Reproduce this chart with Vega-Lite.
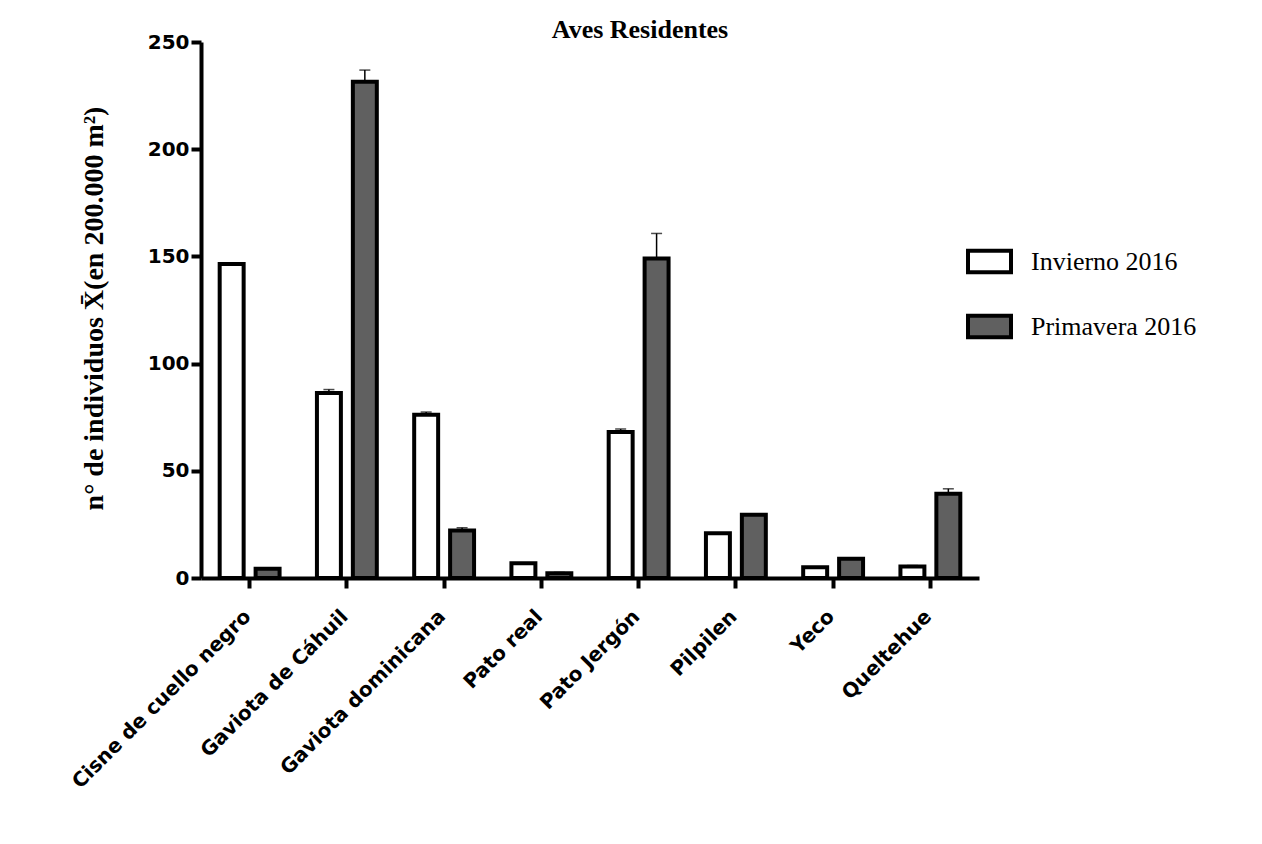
{
  "$schema": "https://vega.github.io/schema/vega-lite/v6.json",
  "autosize": {"type": "none"},
  "padding": {"left": 201, "top": 42, "right": 283, "bottom": 266},
  "width": 778,
  "height": 536,
  "background": "white",
  "title": {
    "text": "Aves Residentes",
    "font": "Liberation Serif",
    "fontWeight": "bold",
    "fontSize": 26,
    "color": "black",
    "anchor": "middle",
    "dx": 50,
    "offset": -11
  },
  "data": {
    "values": [
      {"especie": "Cisne de cuello negro", "temporada": "Invierno 2016", "valor": 146.4, "sup": 146.9},
      {"especie": "Cisne de cuello negro", "temporada": "Primavera 2016", "valor": 4.3, "sup": 4.8},
      {"especie": "Gaviota de Cáhuil", "temporada": "Invierno 2016", "valor": 86.3, "sup": 87.9},
      {"especie": "Gaviota de Cáhuil", "temporada": "Primavera 2016", "valor": 231.5, "sup": 236.9},
      {"especie": "Gaviota dominicana", "temporada": "Invierno 2016", "valor": 76.2, "sup": 77.4},
      {"especie": "Gaviota dominicana", "temporada": "Primavera 2016", "valor": 22.2, "sup": 23.4},
      {"especie": "Pato real", "temporada": "Invierno 2016", "valor": 6.9, "sup": 6.9},
      {"especie": "Pato real", "temporada": "Primavera 2016", "valor": 2.2, "sup": 2.6},
      {"especie": "Pato Jergón", "temporada": "Invierno 2016", "valor": 68.1, "sup": 69.5},
      {"especie": "Pato Jergón", "temporada": "Primavera 2016", "valor": 149.0, "sup": 160.7},
      {"especie": "Pilpilen", "temporada": "Invierno 2016", "valor": 20.9, "sup": 20.9},
      {"especie": "Pilpilen", "temporada": "Primavera 2016", "valor": 29.5, "sup": 29.8},
      {"especie": "Yeco", "temporada": "Invierno 2016", "valor": 5.0, "sup": 5.0},
      {"especie": "Yeco", "temporada": "Primavera 2016", "valor": 9.0, "sup": 9.0},
      {"especie": "Queltehue", "temporada": "Invierno 2016", "valor": 5.4, "sup": 5.8},
      {"especie": "Queltehue", "temporada": "Primavera 2016", "valor": 39.3, "sup": 41.6}
    ]
  },
  "encoding": {
    "x": {
      "field": "especie",
      "type": "nominal",
      "sort": null,
      "scale": {"paddingInner": 0, "paddingOuter": 0},
      "axis": {
        "title": null,
        "labelAngle": -45,
        "labelFont": "DejaVu Sans",
        "labelFontWeight": "bold",
        "labelFontSize": 20,
        "labelColor": "black",
        "labelPadding": 18,
        "labelOffset": -9,
        "labelLimit": 0,
        "domainColor": "black",
        "domainWidth": 4,
        "tickColor": "black",
        "tickWidth": 4,
        "tickSize": 10
      }
    },
    "xOffset": {
      "field": "temporada",
      "type": "nominal",
      "scale": {"paddingInner": 0.333, "paddingOuter": 0.52}
    }
  },
  "layer": [
    {
      "mark": {"type": "rule", "color": "black", "strokeWidth": 1.5},
      "encoding": {
        "y": {"field": "valor", "type": "quantitative"},
        "y2": {"field": "sup"}
      }
    },
    {
      "mark": {"type": "tick", "color": "black", "thickness": 1.5, "size": 11},
      "encoding": {
        "y": {"field": "sup", "type": "quantitative"}
      }
    },
    {
      "mark": {"type": "bar", "stroke": "black", "strokeWidth": 4},
      "encoding": {
        "y": {
          "field": "valor",
          "type": "quantitative",
          "scale": {"domain": [0, 250], "nice": false},
          "axis": {
            "values": [0, 50, 100, 150, 200, 250],
            "grid": false,
            "title": "n° de individuos X̄(en 200.000 m²)",
            "titleFont": "Liberation Serif",
            "titleFontWeight": "bold",
            "titleFontSize": 28,
            "titleColor": "black",
            "titleAngle": -90,
            "titleAlign": "center",
            "titleBaseline": "middle",
            "titleX": -107,
            "titleY": 266,
            "labelFont": "DejaVu Sans",
            "labelFontWeight": "bold",
            "labelFontSize": 20,
            "labelColor": "black",
            "labelPadding": 2,
            "domainColor": "black",
            "domainWidth": 4,
            "tickColor": "black",
            "tickWidth": 4,
            "tickSize": 10
          }
        },
        "fill": {
          "field": "temporada",
          "type": "nominal",
          "scale": {"domain": ["Invierno 2016", "Primavera 2016"], "range": ["white", "#606060"]},
          "legend": {
            "title": null,
            "orient": "none",
            "legendX": 765,
            "legendY": 196,
            "symbolType": "M-1,-0.5H1V0.5H-1Z",
            "symbolSize": 1849,
            "symbolStrokeColor": "black",
            "symbolStrokeWidth": 4,
            "labelFont": "Liberation Serif",
            "labelFontSize": 26,
            "labelColor": "black",
            "labelOffset": 18,
            "rowPadding": 22,
            "labelLimit": 400
          }
        }
      }
    }
  ],
  "config": {
    "view": {"stroke": null}
  }
}
